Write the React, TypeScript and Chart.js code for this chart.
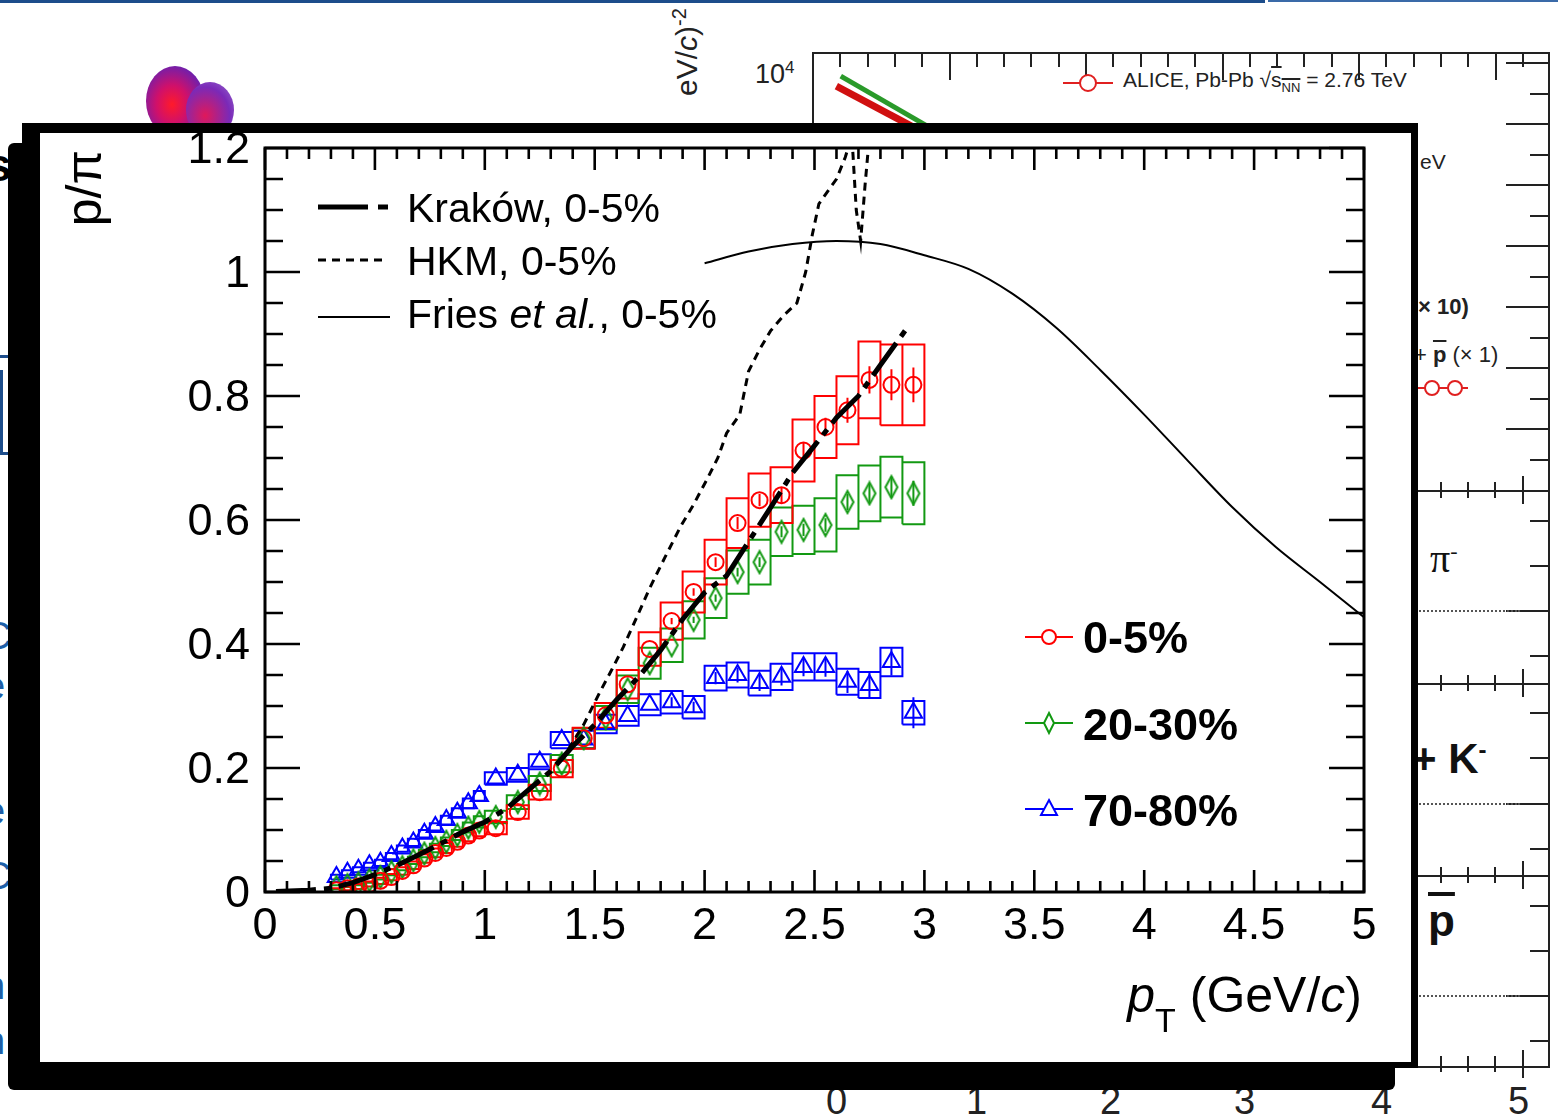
import React, { useEffect, useRef } from 'react';
import { Chart, registerables } from 'chart.js';

Chart.register(...registerables);

const FONT = '"Liberation Sans", Arial, Helvetica, sans-serif';

// ---------------- data ----------------
const PT = [
  0.325, 0.375, 0.425, 0.475, 0.525, 0.575, 0.625, 0.675, 0.725, 0.775, 0.825, 0.875, 0.925, 0.975,
  1.05, 1.15, 1.25, 1.35, 1.45, 1.55, 1.65, 1.75, 1.85, 1.95, 2.05, 2.15, 2.25, 2.35, 2.45, 2.55, 2.65, 2.75, 2.85, 2.95,
];
const BIN_WIDTH = [
  0.05, 0.05, 0.05, 0.05, 0.05, 0.05, 0.05, 0.05, 0.05, 0.05, 0.05, 0.05, 0.05, 0.05,
  0.1, 0.1, 0.1, 0.1, 0.1, 0.1, 0.1, 0.1, 0.1, 0.1, 0.1, 0.1, 0.1, 0.1, 0.1, 0.1, 0.1, 0.1, 0.1, 0.1,
];

const RATIO_0_5 = [
  0.003, 0.006, 0.009, 0.013, 0.018, 0.024, 0.034, 0.043, 0.054, 0.063, 0.071, 0.081, 0.091, 0.099,
  0.103, 0.129, 0.161, 0.199, 0.248, 0.285, 0.335, 0.392, 0.437, 0.484, 0.532, 0.595, 0.632, 0.64, 0.712, 0.75, 0.777, 0.826, 0.818, 0.818,
];
const SYS_0_5 = [
  0.003, 0.003, 0.004, 0.004, 0.005, 0.005, 0.006, 0.006, 0.007, 0.007, 0.008, 0.008, 0.009, 0.009,
  0.01, 0.011, 0.012, 0.014, 0.017, 0.02, 0.023, 0.027, 0.03, 0.033, 0.036, 0.04, 0.043, 0.045, 0.05, 0.05, 0.055, 0.062, 0.065, 0.065,
];
const STAT_0_5 = [
  0, 0, 0, 0, 0, 0, 0, 0, 0, 0, 0, 0, 0, 0,
  0, 0, 0, 0, 0, 0, 0, 0, 0.005, 0.006, 0.008, 0.01, 0.01, 0.012, 0.013, 0.015, 0.02, 0.022, 0.025, 0.028,
];

const RATIO_20_30 = [
  0.008, 0.011, 0.014, 0.019, 0.024, 0.032, 0.04, 0.051, 0.062, 0.071, 0.081, 0.092, 0.104, 0.113,
  0.121, 0.145, 0.175, 0.207, 0.248, 0.281, 0.327, 0.369, 0.398, 0.439, 0.474, 0.516, 0.532, 0.581, 0.584, 0.592, 0.629, 0.643, 0.653, 0.643,
];
const SYS_20_30 = [
  0.003, 0.003, 0.003, 0.004, 0.004, 0.005, 0.005, 0.006, 0.006, 0.007, 0.007, 0.008, 0.008, 0.009,
  0.01, 0.011, 0.012, 0.014, 0.016, 0.019, 0.022, 0.025, 0.027, 0.03, 0.032, 0.035, 0.036, 0.039, 0.039, 0.043, 0.043, 0.045, 0.049, 0.05,
];
const STAT_20_30 = [
  0, 0, 0, 0, 0, 0, 0, 0, 0, 0, 0, 0, 0, 0,
  0, 0, 0, 0, 0, 0, 0, 0, 0, 0.005, 0.006, 0.007, 0.008, 0.009, 0.01, 0.011, 0.013, 0.015, 0.017, 0.02,
];

const RATIO_70_80 = [
  0.024, 0.031, 0.036, 0.043, 0.047, 0.058, 0.07, 0.08, 0.094, 0.105, 0.116, 0.128, 0.143, 0.155,
  0.183, 0.189, 0.21, 0.245, 0.246, 0.271, 0.284, 0.302, 0.306, 0.298, 0.345, 0.35, 0.337, 0.347, 0.363, 0.363, 0.339, 0.334, 0.371, 0.289,
];
const SYS_70_80 = [
  0.004, 0.004, 0.004, 0.004, 0.005, 0.005, 0.005, 0.006, 0.006, 0.006, 0.007, 0.007, 0.008, 0.008,
  0.01, 0.011, 0.012, 0.013, 0.014, 0.015, 0.016, 0.017, 0.018, 0.018, 0.02, 0.02, 0.02, 0.021, 0.022, 0.022, 0.021, 0.021, 0.023, 0.019,
];
const STAT_70_80 = [
  0, 0, 0, 0, 0, 0, 0, 0, 0, 0, 0, 0, 0, 0,
  0, 0, 0, 0, 0, 0, 0, 0, 0.008, 0.009, 0.01, 0.012, 0.013, 0.014, 0.015, 0.016, 0.018, 0.02, 0.022, 0.025,
];

const KRAKOW_PT = [0.05, 0.2, 0.3, 0.4, 0.5, 0.6, 0.7, 0.8, 0.9, 1.0, 1.1, 1.2, 1.3, 1.4, 1.5, 1.6, 1.7, 1.8, 1.9, 2.0, 2.1, 2.2, 2.3, 2.4, 2.5, 2.6, 2.7, 2.8, 2.93];
const KRAKOW_RATIO = [0.001, 0.003, 0.006, 0.015, 0.028, 0.043, 0.06, 0.078, 0.097, 0.113, 0.135, 0.165, 0.195, 0.235, 0.27, 0.31, 0.347, 0.39, 0.44, 0.483, 0.51, 0.565, 0.62, 0.676, 0.72, 0.765, 0.8, 0.85, 0.914];

const HKM_PT = [1.38, 1.45, 1.52, 1.58, 1.63, 1.7, 1.75, 1.82, 1.89, 1.95, 2.01, 2.06, 2.1, 2.16, 2.2, 2.25, 2.3, 2.36, 2.42, 2.46, 2.49, 2.52, 2.56, 2.6, 2.64, 2.67, 2.69, 2.71, 2.73, 2.76];
const HKM_RATIO = [0.23, 0.27, 0.32, 0.36, 0.395, 0.45, 0.49, 0.54, 0.589, 0.625, 0.665, 0.7, 0.74, 0.77, 0.84, 0.875, 0.905, 0.93, 0.95, 1.0, 1.06, 1.11, 1.13, 1.15, 1.185, 1.22, 1.1, 1.05, 1.14, 1.26];

const FRIES_PT = [2.0, 2.2, 2.4, 2.6, 2.8, 3.0, 3.2, 3.4, 3.6, 3.8, 4.0, 4.2, 4.4, 4.6, 4.8, 5.0];
const FRIES_RATIO = [1.014, 1.033, 1.045, 1.05, 1.045, 1.027, 1.005, 0.965, 0.91, 0.842, 0.77, 0.695, 0.621, 0.556, 0.5, 0.443];

const X_TICKS = [0, 0.5, 1, 1.5, 2, 2.5, 3, 3.5, 4, 4.5, 5];
const Y_TICKS = [0, 0.2, 0.4, 0.6, 0.8, 1, 1.2];

const MODEL_LABELS = ['Kraków, 0-5%', 'HKM, 0-5%', 'Fries et al., 0-5%'];
const CENT_LABELS = ['0-5%', '20-30%', '70-80%'];
const CENT_COLORS = ['#ff0000', '#129912', '#0000ff'];

// ---------------- helpers ----------------
function boxPolys(vals: number[], sys: number[]) {
  const out: any[] = [];
  PT.forEach((x, i) => {
    const w = BIN_WIDTH[i] / 2;
    const lo = vals[i] - sys[i];
    const hi = vals[i] + sys[i];
    out.push({ x: x - w, y: lo }, { x: x + w, y: lo }, { x: x + w, y: hi }, { x: x - w, y: hi }, { x: x - w, y: lo }, { x: x - w, y: null });
  });
  return out;
}
function statBars(vals: number[], stat: number[]) {
  const out: any[] = [];
  PT.forEach((x, i) => {
    if (stat[i] > 0) out.push({ x, y: vals[i] - stat[i] }, { x, y: vals[i] + stat[i] }, { x, y: null });
  });
  return out;
}
function pts(xs: number[], ys: number[]) {
  return xs.map((x, i) => ({ x, y: ys[i] }));
}

function makeDiamond(color: string) {
  const c = document.createElement('canvas');
  c.width = 16;
  c.height = 26;
  const g = c.getContext('2d')!;
  g.strokeStyle = color;
  g.lineWidth = 2;
  g.beginPath();
  g.moveTo(8, 2);
  g.lineTo(14, 13);
  g.lineTo(8, 24);
  g.lineTo(2, 13);
  g.closePath();
  g.stroke();
  return c;
}

const framePlugin = {
  id: 'rootFrame',
  afterDatasetsDraw(chart: any) {
    const { ctx, chartArea: a, scales } = chart;
    const x = scales.x;
    const y = scales.y;
    ctx.save();
    ctx.strokeStyle = '#000';
    ctx.setLineDash([]);
    ctx.lineWidth = 3;
    ctx.strokeRect(a.left, a.top, a.right - a.left, a.bottom - a.top);
    ctx.lineWidth = 2.6;
    ctx.beginPath();
    for (let i = 0; i <= 50; i++) {
      const px = x.getPixelForValue(i / 10);
      const len = i % 5 === 0 ? 22 : 11;
      ctx.moveTo(px, a.bottom);
      ctx.lineTo(px, a.bottom - len);
      ctx.moveTo(px, a.top);
      ctx.lineTo(px, a.top + len);
    }
    for (let i = 0; i <= 24; i++) {
      const py = y.getPixelForValue(i * 0.05);
      const len = i % 4 === 0 ? 35 : 18;
      ctx.moveTo(a.left, py);
      ctx.lineTo(a.left + len, py);
      ctx.moveTo(a.right, py);
      ctx.lineTo(a.right - len, py);
    }
    ctx.stroke();
    ctx.restore();
  },
};

function drawSegs(ctx: any, segs: [string, string][], x: number, y: number, align: 'left' | 'right') {
  let total = 0;
  for (const [t, f] of segs) {
    ctx.font = f;
    total += ctx.measureText(t).width;
  }
  let cx = align === 'left' ? x : x - total;
  ctx.textAlign = 'left';
  for (const [t, f] of segs) {
    ctx.font = f;
    ctx.fillText(t, cx, y);
    cx += ctx.measureText(t).width;
  }
}

const textPlugin = {
  id: 'rootTexts',
  afterDraw(chart: any) {
    const { ctx } = chart;
    ctx.save();
    ctx.fillStyle = '#000';
    ctx.strokeStyle = '#000';
    ctx.textBaseline = 'alphabetic';

    // model legend samples
    ctx.setLineDash([]);
    ctx.lineWidth = 5;
    ctx.beginPath();
    ctx.moveTo(278, 74);
    ctx.lineTo(328, 74);
    ctx.moveTo(338, 74);
    ctx.lineTo(348, 74);
    ctx.stroke();
    ctx.lineWidth = 3;
    ctx.setLineDash([8, 6]);
    ctx.beginPath();
    ctx.moveTo(278, 127);
    ctx.lineTo(348, 127);
    ctx.stroke();
    ctx.setLineDash([]);
    ctx.lineWidth = 2;
    ctx.beginPath();
    ctx.moveTo(278, 184);
    ctx.lineTo(350, 184);
    ctx.stroke();

    const reg = `41px ${FONT}`;
    const ita = `italic 41px ${FONT}`;
    drawSegs(ctx, [[MODEL_LABELS[0], reg]], 367, 89, 'left');
    drawSegs(ctx, [[MODEL_LABELS[1], reg]], 367, 142, 'left');
    const parts = MODEL_LABELS[2].split('et al.');
    drawSegs(ctx, [[parts[0], reg], ['et al.', ita], [parts[1], reg]], 367, 195, 'left');

    // centrality legend
    const rowsY = [504, 590, 676];
    const baseY = [520, 607, 693];
    CENT_LABELS.forEach((lab, i) => {
      const cy = rowsY[i];
      ctx.strokeStyle = CENT_COLORS[i];
      ctx.lineWidth = 2;
      ctx.beginPath();
      ctx.moveTo(985, cy);
      ctx.lineTo(1033, cy);
      ctx.stroke();
      ctx.fillStyle = '#fff';
      ctx.beginPath();
      if (i === 0) {
        ctx.arc(1009, cy, 7, 0, Math.PI * 2);
      } else if (i === 1) {
        ctx.moveTo(1009, cy - 10);
        ctx.lineTo(1014, cy);
        ctx.lineTo(1009, cy + 10);
        ctx.lineTo(1004, cy);
        ctx.closePath();
      } else {
        ctx.moveTo(1009, cy - 9);
        ctx.lineTo(1017, cy + 6);
        ctx.lineTo(1001, cy + 6);
        ctx.closePath();
      }
      ctx.fill();
      ctx.stroke();
      ctx.fillStyle = '#000';
      drawSegs(ctx, [[lab, `bold 45px ${FONT}`]], 1043, baseY[i], 'left');
    });

    // x title
    ctx.fillStyle = '#000';
    const big = `50px ${FONT}`;
    const bigI = `italic 50px ${FONT}`;
    ctx.font = big;
    const w1 = ctx.measureText(' (GeV/').width;
    ctx.font = bigI;
    const w2 = ctx.measureText('c').width;
    ctx.font = big;
    const w3 = ctx.measureText(')').width;
    ctx.font = `34px ${FONT}`;
    const wT = ctx.measureText('T').width;
    ctx.font = bigI;
    const wp = ctx.measureText('p').width;
    const right = 1322;
    let cx = right - (wp + wT + w1 + w2 + w3);
    const by = 879;
    ctx.textAlign = 'left';
    ctx.font = bigI;
    ctx.fillText('p', cx, by);
    cx += wp;
    ctx.font = `34px ${FONT}`;
    ctx.fillText('T', cx, by + 20);
    cx += wT;
    ctx.font = big;
    ctx.fillText(' (GeV/', cx, by);
    cx += w1;
    ctx.font = bigI;
    ctx.fillText('c', cx, by);
    cx += w2;
    ctx.font = big;
    ctx.fillText(')', cx, by);

    // y title
    ctx.save();
    ctx.translate(47, 17);
    ctx.rotate(-Math.PI / 2);
    ctx.textAlign = 'right';
    ctx.textBaseline = 'middle';
    ctx.font = `50px ${FONT}`;
    ctx.fillText('p/π', 0, 0);
    ctx.restore();

    ctx.restore();
  },
};

function RatioChart() {
  const ref = useRef<HTMLCanvasElement>(null);
  useEffect(() => {
    const diamond = makeDiamond(CENT_COLORS[1]);
    const series = [
      { v: RATIO_0_5, s: SYS_0_5, st: STAT_0_5 },
      { v: RATIO_20_30, s: SYS_20_30, st: STAT_20_30 },
      { v: RATIO_70_80, s: SYS_70_80, st: STAT_70_80 },
    ];
    const datasets: any[] = [
      {
        label: 'Kraków',
        data: pts(KRAKOW_PT, KRAKOW_RATIO),
        borderColor: '#000',
        borderWidth: 5,
        borderDash: [40, 8, 7, 8],
        pointRadius: 0,
        tension: 0,
      },
      {
        label: 'HKM',
        data: pts(HKM_PT, HKM_RATIO),
        borderColor: '#000',
        borderWidth: 3,
        borderDash: [8, 6],
        pointRadius: 0,
        tension: 0,
      },
      {
        label: 'Fries',
        data: pts(FRIES_PT, FRIES_RATIO),
        borderColor: '#000',
        borderWidth: 2,
        pointRadius: 0,
        cubicInterpolationMode: 'monotone',
      },
    ];
    series.forEach((se, i) => {
      datasets.push({
        label: CENT_LABELS[i],
        data: pts(PT, se.v),
        showLine: false,
        pointStyle: i === 0 ? 'circle' : i === 1 ? diamond : 'triangle',
        pointRadius: i === 0 ? 8 : i === 1 ? 8 : 10,
        pointBorderColor: CENT_COLORS[i],
        pointBackgroundColor: 'rgba(0,0,0,0)',
        pointBorderWidth: 2,
        borderColor: CENT_COLORS[i],
      });
    });
    series.forEach((se, i) => {
      datasets.push({
        label: CENT_LABELS[i] + ' stat',
        data: statBars(se.v, se.st),
        borderColor: CENT_COLORS[i],
        borderWidth: 2,
        pointRadius: 0,
        spanGaps: false,
      });
    });
    series.forEach((se, i) => {
      datasets.push({
        label: CENT_LABELS[i] + ' sys',
        data: boxPolys(se.v, se.s),
        borderColor: CENT_COLORS[i],
        borderWidth: 2,
        pointRadius: 0,
        spanGaps: false,
        fill: false,
      });
    });

    const chart = new Chart(ref.current!, {
      type: 'line',
      data: { datasets },
      options: {
        animation: false,
        responsive: false,
        devicePixelRatio: 1,
        layout: { padding: { left: 0, top: 15, right: 47, bottom: 0 } },
        plugins: { legend: { display: false }, tooltip: { enabled: false } },
        scales: {
          x: {
            type: 'linear',
            min: 0,
            max: 5,
            afterBuildTicks: (s: any) => {
              s.ticks = X_TICKS.map((v) => ({ value: v }));
            },
            afterFit: (s: any) => {
              s.height = 170;
              s.paddingLeft = 0;
              s.paddingRight = 0;
            },
            grid: { display: false, drawTicks: false },
            border: { display: false },
            ticks: {
              callback: (v: any) => String(v),
              color: '#000',
              font: { family: FONT, size: 45 },
              padding: 8,
              maxRotation: 0,
              autoSkip: false,
            },
          },
          y: {
            type: 'linear',
            min: 0,
            max: 1.2,
            afterBuildTicks: (s: any) => {
              s.ticks = Y_TICKS.map((v) => ({ value: v }));
            },
            afterFit: (s: any) => {
              s.width = 225;
              s.paddingTop = 0;
              s.paddingBottom = 0;
            },
            grid: { display: false, drawTicks: false },
            border: { display: false },
            ticks: {
              callback: (v: any) => String(v),
              color: '#000',
              font: { family: FONT, size: 45 },
              padding: 15,
              labelOffset: 3,
              autoSkip: false,
            },
          },
        },
      },
      plugins: [framePlugin, textPlugin],
    } as any);
    return () => chart.destroy();
  }, []);
  return <canvas ref={ref} width={1371} height={929} style={{ display: 'block', width: 1371, height: 929 }} />;
}

// ---------------- background slide decorations ----------------
const abs = (s: React.CSSProperties): React.CSSProperties => ({ position: 'absolute', ...s });

function Background() {
  const rightTicks: number[] = [];
  for (let yy = 62; yy < 485; yy += 30.5) rightTicks.push(yy);
  const lowTicks = [520, 565, 610, 655, 712, 757, 803, 848, 905, 950, 995, 1040];
  const majorLow = [610, 803, 995];
  const sepX = [1440, 1467, 1494, 1522];
  const bottomLabels = [
    ['0', 838],
    ['1', 978],
    ['2', 1112],
    ['3', 1246],
    ['4', 1383],
    ['5', 1520],
  ];
  return (
    <>
      <div style={abs({ left: 0, top: 0, width: 1265, height: 3, background: '#1d4d8b' })} />
      <div style={abs({ left: 1268, top: 0, width: 290, height: 2, background: '#3a6aa8' })} />
      {/* logo */}
      <div style={abs({ left: 146, top: 66, width: 58, height: 70, borderRadius: '50%', background: 'radial-gradient(ellipse at 45% 55%, #ff1a2a 0%, #d0106a 35%, #6a20b0 75%, #8a60c8 100%)' })} />
      <div style={abs({ left: 186, top: 82, width: 48, height: 56, borderRadius: '50%', background: 'radial-gradient(ellipse at 40% 60%, #e0185a 0%, #7a2ab8 60%, #9a70d0 100%)' })} />
      {/* rotated axis fragment */}
      <div style={abs({ left: 686, top: 52, transform: 'translate(-50%,-50%) rotate(-90deg)', whiteSpace: 'nowrap', fontSize: 30, color: '#222' })}>
        eV/<i>c</i>)<sup style={{ fontSize: 20 }}>-2</sup>
      </div>
      <div style={abs({ left: 755, top: 58, fontSize: 27, color: '#222' })}>
        10<sup style={{ fontSize: 17 }}>4</sup>
      </div>
      {/* ALICE spectra frame */}
      <div style={abs({ left: 812, top: 52, width: 734, height: 1012, border: '2px solid #222' })} />
      <div style={abs({ left: 838, top: 83, width: 100, height: 7, background: '#d01010', transform: 'rotate(28deg)', transformOrigin: '0 0' })} />
      <div style={abs({ left: 842, top: 74, width: 100, height: 5, background: '#2a9a2a', transform: 'rotate(30deg)', transformOrigin: '0 0' })} />
      {Array.from({ length: 27 }, (_, i) => 812 + 27.3 * i).map((xx, i) => (
        <div key={'tt' + i} style={abs({ left: xx, top: 54, width: 2, height: i % 5 === 0 ? 26 : 13, background: '#222' })} />
      ))}
      <div style={abs({ left: 1063, top: 82, width: 50, height: 2, background: '#e02020' })} />
      <div style={abs({ left: 1079, top: 74, width: 14, height: 14, borderRadius: '50%', border: '2px solid #e02020', background: '#fff' })} />
      <div style={abs({ left: 1123, top: 68, fontSize: 21, color: '#222', whiteSpace: 'nowrap' })}>
        ALICE, Pb-Pb √<span style={{ textDecoration: 'overline' }}>s<sub style={{ fontSize: 13 }}>NN</sub></span> = 2.76 TeV
      </div>
      <div style={abs({ left: 1420, top: 150, fontSize: 21, color: '#222' })}>eV</div>
      <div style={abs({ left: 1418, top: 294, fontSize: 22, fontWeight: 'bold', color: '#222', whiteSpace: 'nowrap' })}>× 10)</div>
      <div style={abs({ left: 1414, top: 342, fontSize: 22, color: '#222', whiteSpace: 'nowrap' })}>
        + <b style={{ textDecoration: 'overline' }}>p</b> (× 1)
      </div>
      <div style={abs({ left: 1418, top: 387, width: 50, height: 2, background: '#e02020' })} />
      <div style={abs({ left: 1424, top: 380, width: 12, height: 12, borderRadius: '50%', border: '2px solid #e02020', background: '#fff' })} />
      <div style={abs({ left: 1447, top: 380, width: 12, height: 12, borderRadius: '50%', border: '2px solid #e02020', background: '#fff' })} />
      {rightTicks.map((yy, i) => (
        <div key={'rt' + i} style={abs({ left: i % 2 === 0 ? 1506 : 1530, top: yy, width: i % 2 === 0 ? 42 : 18, height: 2, background: '#222' })} />
      ))}
      {lowTicks.map((yy, i) => (
        <div key={'lt' + i} style={abs({ left: majorLow.includes(yy) ? 1506 : 1530, top: yy, width: majorLow.includes(yy) ? 42 : 18, height: 2, background: '#222' })} />
      ))}
      {[490, 683, 875].map((yy) => (
        <div key={'sep' + yy} style={abs({ left: 812, top: yy, width: 736, height: 2, background: '#222' })} />
      ))}
      {[490, 683, 875, 1064].map((yy) =>
        sepX.map((xx, j) => (
          <div key={'st' + yy + '-' + j} style={abs({ left: xx, top: yy - (j === 3 ? 14 : 8), width: 2, height: j === 3 ? 28 : 16, background: '#222' })} />
        )),
      )}
      {[610, 803, 995].map((yy) => (
        <div key={'dot' + yy} style={abs({ left: 1412, top: yy, width: 108, height: 0, borderTop: '2px dotted #555' })} />
      ))}
      <div style={abs({ left: 1430, top: 535, fontSize: 40, fontFamily: '"Liberation Serif", serif', color: '#111' })}>
        π<sup style={{ fontSize: 22 }}>-</sup>
      </div>
      <div style={abs({ left: 1412, top: 735, fontSize: 42, fontWeight: 'bold', color: '#111', whiteSpace: 'nowrap' })}>
        + K<sup style={{ fontSize: 24 }}>-</sup>
      </div>
      <div style={abs({ left: 1428, top: 896, fontSize: 44, fontWeight: 'bold', color: '#111', textDecoration: 'overline' })}>p</div>
      {bottomLabels.map(([t, xx]) => (
        <div key={'bl' + t} style={abs({ left: (xx as number) - 12, top: 1080, fontSize: 38, color: '#222' })}>
          {t}
        </div>
      ))}
      {/* left slide fragments */}
      <div style={abs({ left: 0, top: 355, width: 36, height: 3, background: '#1d4d8b' })} />
      <div style={abs({ left: 0, top: 452, width: 30, height: 3, background: '#1d4d8b' })} />
      <div style={abs({ left: 0, top: 370, width: 3, height: 82, background: '#1d4d8b' })} />
      {[
        ['C', 615],
        ['e', 665],
        ['e', 790],
        ['C', 855],
        ['n', 965],
        ['n', 1020],
      ].map(([t, yy], i) => (
        <div key={'lf' + i} style={abs({ left: -16, top: yy as number, fontSize: 38, color: '#1d5fa8' })}>
          {t}
        </div>
      ))}
      <div style={abs({ left: -14, top: 138, fontSize: 46, fontWeight: 'bold', color: '#000' })}>s</div>
    </>
  );
}

export default function App() {
  return (
    <div style={{ position: 'fixed', left: 0, top: 0, width: 1558, height: 1120, overflow: 'hidden', background: '#fff', fontFamily: FONT }}>
      <Background />
      {/* shadow */}
      <div style={abs({ left: 8, top: 143, width: 1387, height: 947, background: '#000', borderRadius: 6 })} />
      {/* panel */}
      <div style={abs({ left: 22, top: 123, width: 1396, height: 945, background: '#000' })} />
      <div style={abs({ left: 40, top: 133, width: 1371, height: 929, background: '#fff' })}>
        <RatioChart />
      </div>
    </div>
  );
}
